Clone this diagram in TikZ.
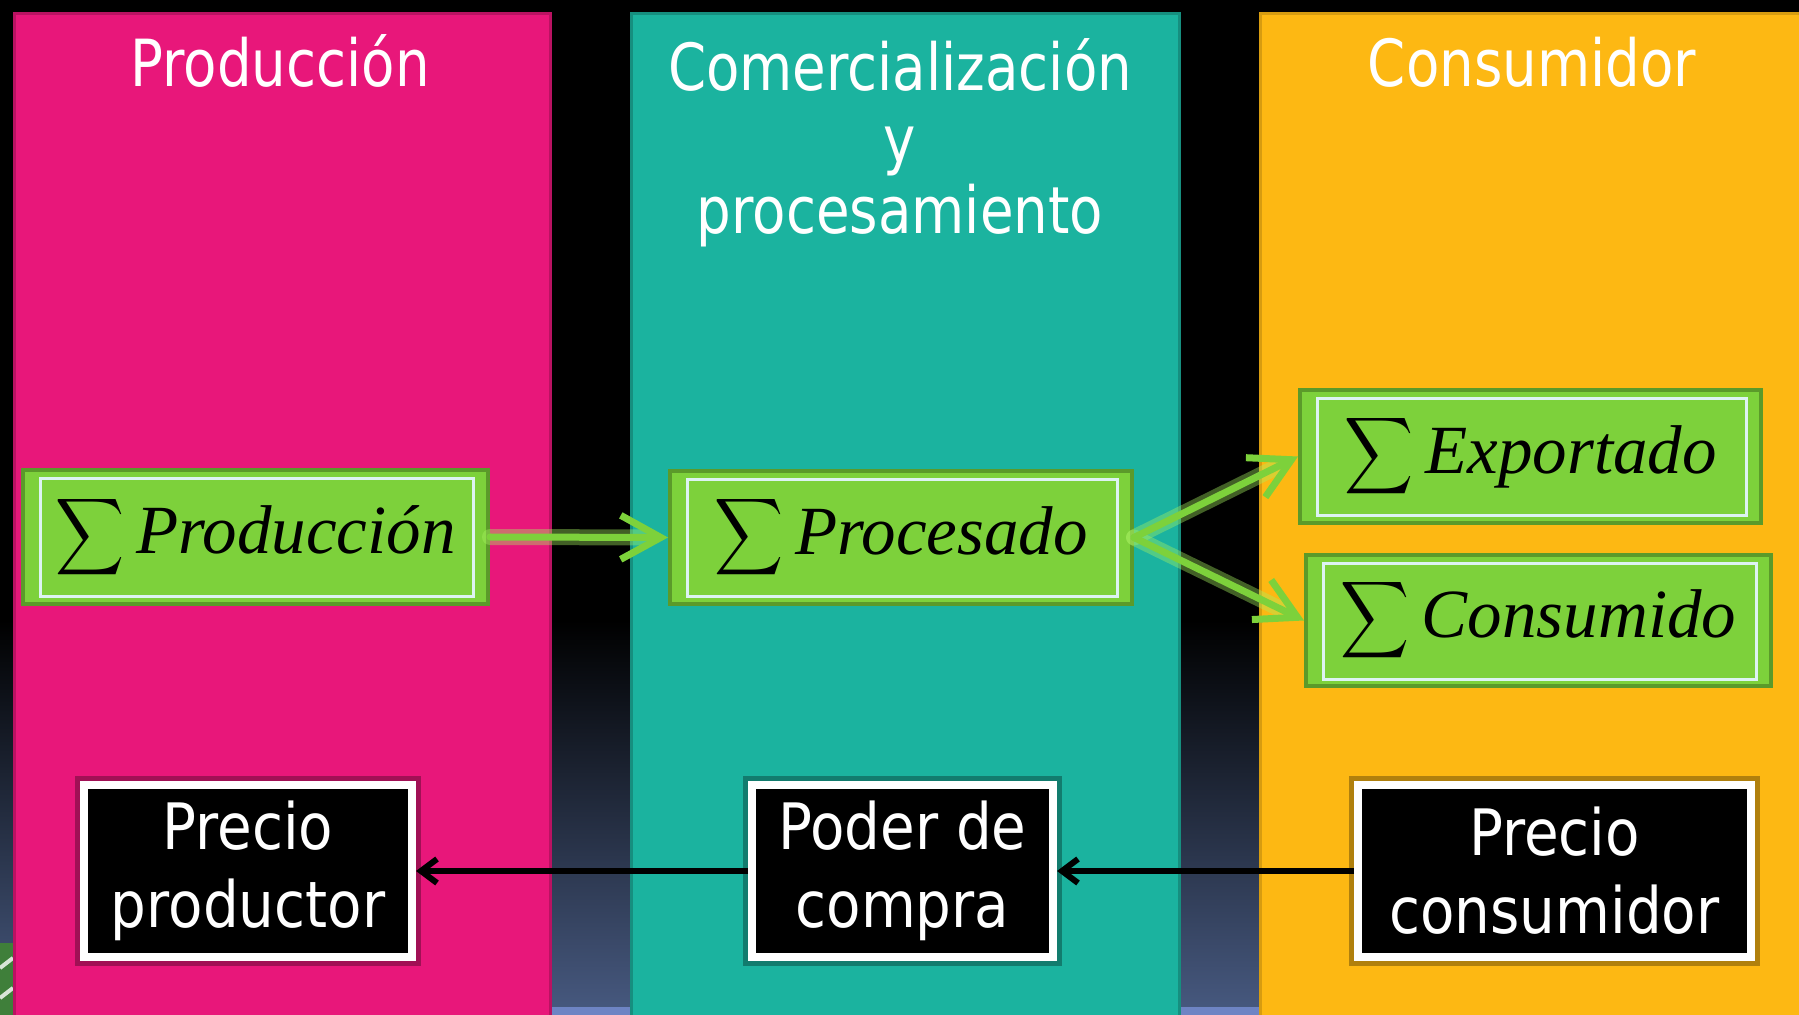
\documentclass[tikz,border=0pt]{standalone}
\usepackage{fontspec}
\usepackage{graphicx}
\setmainfont{DejaVu Sans}[FakeStretch=0.84]
\newfontfamily\boxfont{DejaVu Sans}[FakeStretch=0.88]
\newfontfamily\serifit{Liberation Serif}
\usetikzlibrary{arrows.meta}
\definecolor{cpink}{HTML}{E8177A}
\definecolor{cteal}{HTML}{1BB39F}
\definecolor{corange}{HTML}{FDB813}
\definecolor{cgreen}{HTML}{7DD13B}
\definecolor{cgreenD}{HTML}{5B9A2A}
\definecolor{cframe}{HTML}{DDF3F2}
\definecolor{cslate}{HTML}{46587E}
\definecolor{cstrip}{HTML}{6E84C4}
\definecolor{cglow}{HTML}{A6F060}
\definecolor{cgrass}{HTML}{3F7F3A}
\newcommand\bigsig{\raisebox{-13pt}{\resizebox*{34.5pt}{43pt}{\raisebox{\depth}{$\displaystyle\sum$}}}}
\begin{document}
\begin{tikzpicture}[x=0.5pt,y=-0.5pt,
  column/.style={line width=1.5pt},
  title/.style={text=white, font=\fontsize{32.5}{35.75}\selectfont, align=center, inner sep=0pt},
  gbox/.style={draw=cgreenD, line width=2pt, fill=cgreen, inner sep=0pt, text=black,
    font=\serifit\itshape\fontsize{34.5}{40}\selectfont},
  bbox/.style={draw=white, line width=4pt, fill=black, text=white, align=center, inner sep=0pt,
    font=\boxfont\fontsize{32}{39}\selectfont,
    preaction={draw=black, draw opacity=0.3, line width=9pt}},
  glowline/.style={line width=8pt, draw=cglow, draw opacity=0.4, line cap=round, shorten >=14pt},
  garrow/.style={line width=3.5pt, draw=cgreen, line cap=round, -{Straight Barb[length=20pt,width=22pt]}},
  barrow/.style={line width=3pt, draw=black, -{Straight Barb[length=8pt,width=12pt]}}
]
\useasboundingbox (0,0) rectangle (1799,1015);
% background
\fill[black] (0,0) rectangle (1799,621);
\shade[top color=black, bottom color=cslate] (0,620) rectangle (1799,1008);
\fill[cstrip] (0,1007) rectangle (1799,1015);
\fill[cgrass] (0,943) rectangle (13,1015);
\draw[white!80!cgrass, line width=2pt] (0,968) -- (13,958) (0,998) -- (13,988);
% columns
\path[column, fill=cpink, draw=cpink!80!black] (14,14) rectangle (550,1022);
\path[column, fill=cteal, draw=cteal!80!black] (631,14) rectangle (1179,1022);
\path[column, fill=corange, draw=corange!85!black] (1260,14) rectangle (1805,1022);
% titles
\node[title, anchor=base] (t1) at (280,87) {Producción};
\node[title] (t2) at (900,143) {Comercialización\\y\\procesamiento};
\node[title, anchor=base] (t3) at (1532,87) {Consumidor};
% green boxes
\node[gbox, minimum width=232.5pt, minimum height=67pt] (np) at (255.5,537) {\bigsig\hspace{6pt}Producción};
\node[gbox, minimum width=231pt, minimum height=66.5pt] (nq) at (901,537.5) {\bigsig\hspace{6pt}Procesado};
\node[gbox, minimum width=230.5pt, minimum height=66.5pt] (ne) at (1530.5,456.5) {\bigsig\hspace{6pt}Exportado};
\node[gbox, minimum width=232.5pt, minimum height=65.5pt] (nc) at (1538.5,620.5) {\bigsig\hspace{6pt}Consumido};
\foreach \n in {np,nq,ne,nc}
  \draw[cframe, line width=1.5pt] ([shift={(19,11)}]\n.north west) rectangle ([shift={(-17,-9)}]\n.south east);
% green arrows with glow
\draw[glowline] (np.east) -- (nq.west);
\draw[glowline] (nq.east) -- (ne.west);
\draw[glowline] (nq.east) -- (nc.west);
\draw[garrow] (np.east) -- (nq.west);
\draw[garrow] (nq.east) -- (ne.west);
\draw[garrow] (nq.east) -- (nc.west);
% bottom boxes
\node[bbox, minimum width=164pt, minimum height=86pt] (pp) at (248,871) {Precio\\productor};
\node[bbox, minimum width=150.5pt, minimum height=86pt] (pc) at (902.5,871) {Poder de\\compra};
\node[bbox, minimum width=196.5pt, minimum height=86pt] (pk) at (1554.5,871) {Precio\\consumidor};
\draw[barrow] (pk.west) -- (pc.east);
\draw[barrow] (pc.west) -- (pp.east);
\end{tikzpicture}
\end{document}
